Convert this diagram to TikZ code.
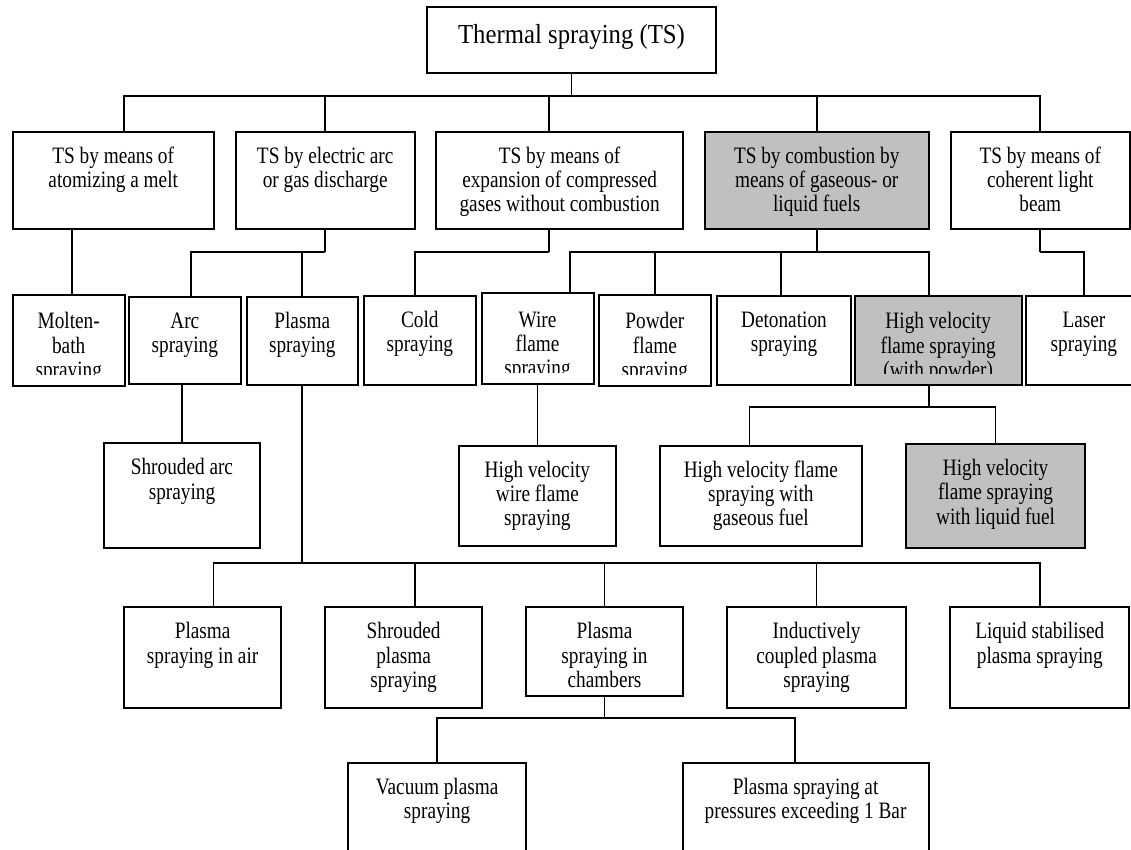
\documentclass[tikz,border=0pt]{standalone}
\usepackage{fontspec}
\setmainfont{Liberation Serif}
\newfontfamily\bodyfont{Liberation Serif}[FakeStretch=0.82]
\newfontfamily\titlefont{Liberation Serif}[FakeStretch=0.9]
\definecolor{boxgray}{RGB}{192,192,192}
\tikzset{
  box/.style={draw=black, line width=2pt, inner sep=0pt, outer sep=0pt, anchor=north west},
  shaded/.style={fill=boxgray},
  conn/.style={draw=black, line width=1.7pt},
}
\newcommand\bodytext{\bodyfont\fontsize{23.5}{24.3}\selectfont}
% box with top-aligned text: [style]{name}{x1}{y1}{x2}{y2}{text}
\newcommand\bx[7][]{%
  \pgfmathsetmacro\bxw{#5-#3}%
  \pgfmathsetmacro\bxh{#6-#4}%
  \node[box,#1] (#2) at (#3,#4)
    {\parbox[c][\bxh pt][t]{\bxw pt}{\bodytext\centering\rule{0pt}{31.5pt}#7}};%
}
% box whose text is cut off near the bottom
\newcommand\cbx[7][]{%
  \pgfmathsetmacro\bxw{#5-#3}%
  \pgfmathsetmacro\bxh{#6-#4}%
  \node[box,#1,minimum width=\bxw pt,minimum height=\bxh pt,
    path picture={
      \clip (path picture bounding box.north west) rectangle ([yshift=11.5pt]path picture bounding box.south east);
      \node[anchor=north west,inner sep=0pt,draw=none,fill=none] (#2-t) at (path picture bounding box.north west)
        {\parbox[t]{\bxw pt}{\bodytext\centering\rule{0pt}{30.5pt}#7}};
    }] (#2) at (#3,#4) {};%
}
\begin{document}
\begin{tikzpicture}[x=1pt,y=-1pt]
\useasboundingbox (0,0) rectangle (1131,850);
\fill[white] (0,0) rectangle (1131,850);
\clip (0,0) rectangle (1131,850);

% title
\node[box] (T) at (427,7.3)
  {\parbox[c][66pt][t]{289pt}{\titlefont\fontsize{27.5}{30}\selectfont\centering\rule{0pt}{36pt}Thermal spraying (TS)}};

% row 1
\bx{A}{12.7}{131.7}{213.7}{229.3}{TS by means of\\atomizing a melt}
\bx{B}{235.6}{131.7}{414.8}{229.3}{TS by electric arc\\or gas discharge}
\bx{C}{436.2}{131.7}{683.1}{229.3}{TS by means of\\expansion of compressed\\gases without combustion}
\bx[shaded]{D}{704.9}{131.7}{928.5}{229.3}{TS by combustion by\\means of gaseous- or\\liquid fuels}
\bx{E}{950.7}{131.7}{1129.9}{229.3}{TS by means of\\coherent light\\beam}

% row 2
\cbx{M}{12.7}{295}{124.7}{386}{Molten-\\bath\\spraying}
\bx{Arc}{129}{297}{240.6}{384.3}{Arc\\spraying}
\bx{P}{246.5}{297}{358}{385}{Plasma\\spraying}
\bx{Cold}{363.9}{296}{475.8}{385}{Cold\\spraying}
\cbx{W}{481.6}{293.3}{593.5}{384.3}{Wire\\flame\\spraying}
\cbx{Pw}{599}{295.3}{710.8}{385.7}{Powder\\flame\\spraying}
\bx{Dt}{716.6}{296}{851.3}{385}{Detonation\\spraying}
\cbx[shaded]{H}{854.6}{296}{1021.8}{385}{High velocity\\flame spraying\\(with powder)}
\bx{L}{1025.8}{296}{1142}{385}{Laser\\spraying}

% row 3
\bx{SA}{103.6}{443.3}{260.3}{548.3}{Shrouded arc\\spraying}
\bx{HW}{459.1}{445.7}{615.7}{546}{High velocity\\wire flame\\spraying}
\bx{G}{660.1}{445.7}{861.5}{546}{High velocity flame\\spraying with\\gaseous fuel}
\bx[shaded]{LQ}{906}{444}{1085.1}{548.3}{High velocity\\flame spraying\\with liquid fuel}

% row 4
\bx{Air}{124.3}{607.3}{281}{708.3}{Plasma\\spraying in air}
\bx{SP}{325.3}{607.3}{482}{708.3}{Shrouded\\plasma\\spraying}
\bx{Ch}{526}{607.3}{683.1}{696}{Plasma\\spraying in\\chambers}
\bx{IC}{727.2}{607.3}{906}{708.3}{Inductively\\coupled plasma\\spraying}
\bx{LS}{950.4}{607.3}{1129.2}{708.3}{Liquid stabilised\\plasma spraying}

% row 5
\bx{V}{347.9}{762.7}{526.4}{880}{Vacuum plasma\\spraying}
\bx{PR}{682.7}{762.7}{928.5}{880}{Plasma spraying at\\pressures exceeding 1 Bar}

% ---- connectors ----
% title -> row 1
\draw[conn] (T.south) -- ++(0,22.7) coordinate (j0);
\coordinate (At) at ([xshift=11pt]A.north);
\coordinate (Ct) at ([xshift=-10.5pt]C.north);
\draw[conn] (At) |- (j0) -| (E.north);
\draw[conn] (B.north) -- (B.north |- j0);
\draw[conn] (Ct) -- (Ct |- j0);
\draw[conn] (D.north) -- (D.north |- j0);

% A -> Molten-bath
\coordinate (As) at ([xshift=-41pt]A.south);
\draw[conn] (As) -- (As |- M.north);

% B -> Arc, Plasma
\draw[conn] (B.south) -- ++(0,22.4) coordinate (jB);
\coordinate (ArcT) at ([xshift=6.4pt]Arc.north);
\draw[conn] (ArcT) |- (jB);
\draw[conn] (P.north) -- (P.north |- jB);

% C -> Cold
\coordinate (Cs) at ([xshift=-10.5pt]C.south);
\draw[conn] (Cs) -- ++(0,22.4) coordinate (jC);
\coordinate (ColdT) at ([xshift=-5pt]Cold.north);
\draw[conn] (ColdT) |- (jC);

% D -> Wire, Powder, Detonation, HVOF
\draw[conn] (D.south) -- ++(0,22.4) coordinate (jD);
\coordinate (WT) at ([xshift=32.7pt]W.north);
\coordinate (HT) at ([xshift=-9.5pt]H.north);
\coordinate (DtT) at ([xshift=-3pt]Dt.north);
\draw[conn] (WT) |- (jD) -| (HT);
\draw[conn] (Pw.north) -- (Pw.north |- jD);
\draw[conn] (DtT) -- (DtT |- jD);

% E -> Laser
\draw[conn] (E.south) -- ++(0,22.4) coordinate (jE);
\draw[conn] (jE) -| (L.north);

% row 2 -> row 3
\draw[conn] (SA.north) -- (SA.north |- Arc.south);
\draw[conn] (HW.north) -- (HW.north |- W.south);
\coordinate (Hs) at ([xshift=-9.5pt]H.south);
\draw[conn] (Hs) -- ++(0,21.7) coordinate (jH);
\coordinate (GT) at ([xshift=-11.4pt]G.north);
\draw[conn] (GT) |- (jH) -| (LQ.north);

% Plasma -> row 4
\draw[conn] (P.south) -- ++(0,177.7) coordinate (jP);
\coordinate (AirT) at ([xshift=10.7pt]Air.north);
\coordinate (SPT) at ([xshift=11pt]SP.north);
\draw[conn] (AirT) |- (jP) -| (LS.north);
\draw[conn] (SPT) -- (SPT |- jP);
\draw[conn] (Ch.north) -- (Ch.north |- jP);
\draw[conn] (IC.north) -- (IC.north |- jP);

% chambers -> row 5
\draw[conn] (Ch.south) -- ++(0,22.3) coordinate (jCh);
\coordinate (PRT) at ([xshift=-10.7pt]PR.north);
\draw[conn] (V.north) |- (jCh) -| (PRT);
\end{tikzpicture}
\end{document}
